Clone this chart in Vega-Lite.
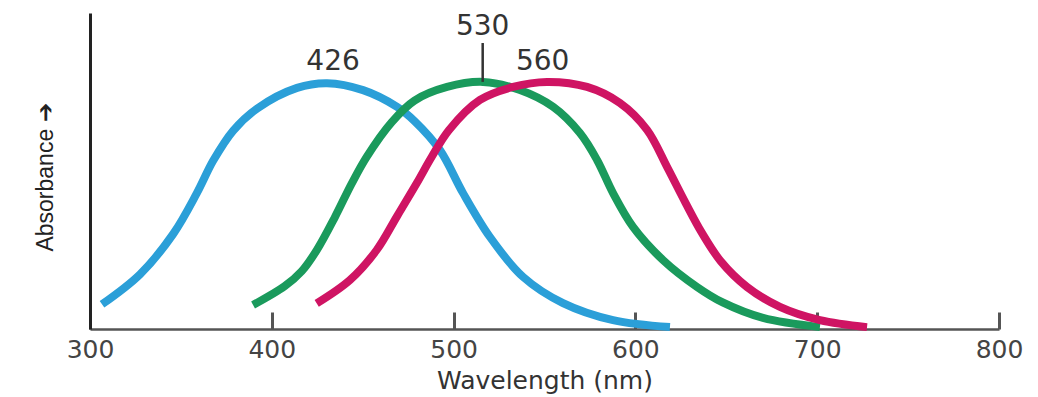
{
  "$schema": "https://vega.github.io/schema/vega-lite/v6.json",
  "width": 909,
  "height": 316,
  "autosize": "none",
  "padding": {"left": 90, "top": 13, "right": 39, "bottom": 68},
  "background": "white",
  "config": {"view": {"stroke": null}},
  "datasets": {
    "curves": [
      {"cone": "S", "nm": 306.6, "abs": 7.8},
      {"cone": "S", "nm": 327.5, "abs": 17.3},
      {"cone": "S", "nm": 345.8, "abs": 30.1},
      {"cone": "S", "nm": 358.7, "abs": 42.9},
      {"cone": "S", "nm": 367.8, "abs": 53.3},
      {"cone": "S", "nm": 378.8, "abs": 62.8},
      {"cone": "S", "nm": 392, "abs": 69.8},
      {"cone": "S", "nm": 413.9, "abs": 76.3},
      {"cone": "S", "nm": 430.4, "abs": 77.8},
      {"cone": "S", "nm": 450.2, "abs": 75.6},
      {"cone": "S", "nm": 468.9, "abs": 70.3},
      {"cone": "S", "nm": 478.5, "abs": 65.8},
      {"cone": "S", "nm": 492.5, "abs": 56.6},
      {"cone": "S", "nm": 505.2, "abs": 43},
      {"cone": "S", "nm": 520, "abs": 29.1},
      {"cone": "S", "nm": 538.2, "abs": 16.5},
      {"cone": "S", "nm": 560.2, "abs": 8.2},
      {"cone": "S", "nm": 587.7, "abs": 2.8},
      {"cone": "S", "nm": 619, "abs": 0.6},
      {"cone": "M", "nm": 389.7, "abs": 7.6},
      {"cone": "M", "nm": 407, "abs": 13.5},
      {"cone": "M", "nm": 416.5, "abs": 18.3},
      {"cone": "M", "nm": 425, "abs": 25.2},
      {"cone": "M", "nm": 434.8, "abs": 35.5},
      {"cone": "M", "nm": 444, "abs": 46.1},
      {"cone": "M", "nm": 452.2, "abs": 54.5},
      {"cone": "M", "nm": 466, "abs": 65.5},
      {"cone": "M", "nm": 478.5, "abs": 72.3},
      {"cone": "M", "nm": 496.4, "abs": 76.6},
      {"cone": "M", "nm": 516.2, "abs": 78.2},
      {"cone": "M", "nm": 536.5, "abs": 75.6},
      {"cone": "M", "nm": 554.7, "abs": 70.3},
      {"cone": "M", "nm": 569.5, "abs": 62},
      {"cone": "M", "nm": 578.9, "abs": 53.5},
      {"cone": "M", "nm": 587.7, "abs": 43},
      {"cone": "M", "nm": 598.7, "abs": 32.3},
      {"cone": "M", "nm": 615.2, "abs": 21.8},
      {"cone": "M", "nm": 633.9, "abs": 13.3},
      {"cone": "M", "nm": 648, "abs": 8.4},
      {"cone": "M", "nm": 670.2, "abs": 3.5},
      {"cone": "M", "nm": 701.5, "abs": 0.6},
      {"cone": "L", "nm": 424.7, "abs": 8.1},
      {"cone": "L", "nm": 443, "abs": 15.5},
      {"cone": "L", "nm": 457.7, "abs": 25},
      {"cone": "L", "nm": 468.7, "abs": 35.5},
      {"cone": "L", "nm": 479.7, "abs": 46.1},
      {"cone": "L", "nm": 488, "abs": 54.5},
      {"cone": "L", "nm": 497.5, "abs": 63},
      {"cone": "L", "nm": 514.5, "abs": 72.5},
      {"cone": "L", "nm": 532.7, "abs": 76.6},
      {"cone": "L", "nm": 551.4, "abs": 78.2},
      {"cone": "L", "nm": 573.4, "abs": 76.6},
      {"cone": "L", "nm": 591.5, "abs": 71.5},
      {"cone": "L", "nm": 606.4, "abs": 63},
      {"cone": "L", "nm": 617.4, "abs": 51.3},
      {"cone": "L", "nm": 627.5, "abs": 40},
      {"cone": "L", "nm": 636.5, "abs": 30.5},
      {"cone": "L", "nm": 647, "abs": 21.4},
      {"cone": "L", "nm": 661.4, "abs": 13.3},
      {"cone": "L", "nm": 679.5, "abs": 7},
      {"cone": "L", "nm": 701.5, "abs": 2.8},
      {"cone": "L", "nm": 727.4, "abs": 0.6}
    ],
    "peaks": [
      {"label": "426", "nm": 433.7, "abs": 84.5},
      {"label": "530", "nm": 516, "abs": 95.6},
      {"label": "560", "nm": 549, "abs": 84.5}
    ],
    "marker": [
      {"nm": 516, "top": 90.5, "bottom": 78.2}
    ]
  },
  "layer": [
    {
      "data": {"name": "curves"},
      "mark": {"type": "line", "strokeWidth": 8, "interpolate": "catmull-rom", "strokeCap": "butt"},
      "encoding": {
        "x": {
          "field": "nm", "type": "quantitative",
          "scale": {"domain": [300, 800], "nice": false, "zero": false},
          "axis": {
            "title": "Wavelength (nm)",
            "values": [300, 400, 500, 600, 700, 800],
            "grid": false,
            "domainColor": "#555555", "domainWidth": 2.5,
            "tickColor": "#555555", "tickWidth": 3, "tickSize": -17,
            "labelFont": "DejaVu Sans", "labelFontSize": 25, "labelColor": "#444444",
            "labelFlush": false, "labelOverlap": false,
            "labelPadding": 25, "labelBaseline": "top",
            "titleFont": "DejaVu Sans", "titleFontSize": 25, "titleFontWeight": "normal",
            "titleColor": "#333333", "titleBaseline": "alphabetic", "titleY": 59
          }
        },
        "y": {
          "field": "abs", "type": "quantitative",
          "scale": {"domain": [0, 100], "nice": false},
          "axis": {
            "title": "Absorbance ➔",
            "ticks": false, "labels": false, "grid": false,
            "domainColor": "#222222", "domainWidth": 3,
            "titleFont": "Liberation Sans", "titleFontSize": 23, "titleFontWeight": "normal",
            "titleColor": "#222222", "titleAngle": -90,
            "titleX": -45, "titleY": 164, "titleAlign": "center", "titleBaseline": "middle"
          }
        },
        "color": {
          "field": "cone", "type": "nominal",
          "scale": {"domain": ["S", "M", "L"], "range": ["#2b9fd8", "#1a9a5c", "#cf1463"]},
          "legend": null
        },
        "detail": {"field": "cone"}
      }
    },
    {
      "data": {"name": "marker"},
      "mark": {"type": "rule", "color": "#333333", "strokeWidth": 2.5},
      "encoding": {
        "x": {"field": "nm", "type": "quantitative"},
        "y": {"field": "top", "type": "quantitative"},
        "y2": {"field": "bottom"}
      }
    },
    {
      "data": {"name": "peaks"},
      "mark": {"type": "text", "font": "DejaVu Sans", "fontSize": 28, "color": "#333333", "align": "center", "baseline": "middle"},
      "encoding": {
        "x": {"field": "nm", "type": "quantitative"},
        "y": {"field": "abs", "type": "quantitative"},
        "text": {"field": "label"}
      }
    }
  ]
}
